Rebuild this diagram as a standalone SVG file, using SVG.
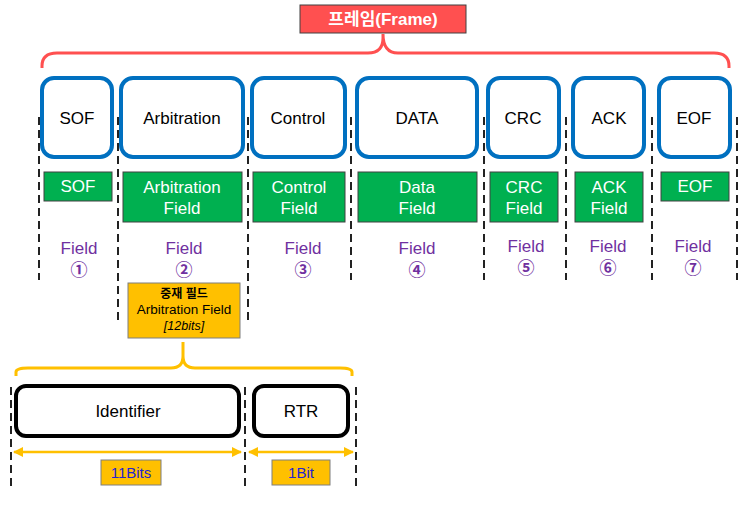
<svg xmlns="http://www.w3.org/2000/svg" width="743" height="505" viewBox="0 0 743 505">
<defs>
<style>
text{font-family:"Liberation Sans","Noto Sans CJK KR",sans-serif;text-anchor:middle}
.blue{fill:#fff;stroke:#0070C0;stroke-width:4}
.green{fill:#00B050;stroke:#404040;stroke-width:1}
.gt{fill:#fff;font-size:17px}
.bt{fill:#000;font-size:17px}
.pt{fill:#7030A0;font-size:17px}
.pc{fill:#7030A0;font-size:17px;font-family:"Noto Sans CJK KR",sans-serif;font-weight:bold}
.dash{stroke:#222;stroke-width:2;stroke-dasharray:8 5;fill:none}
.blk{fill:#fff;stroke:#000;stroke-width:4}
.yl{fill:#FFC000;stroke:#7f7f7f;stroke-width:1}
</style>
<marker id="ah" viewBox="0 0 10 10" refX="9" refY="5" markerWidth="4" markerHeight="4" orient="auto-start-reverse"><path d="M0,0 L10,5 L0,10 z" fill="#FFC000"/></marker>
</defs>
<g id="connectors">
<path d="M42,68 V66 Q42,53 57,53 H368 Q383,53 383,38 V34 Q383,53 398,53 H714 Q729,53 729,66 V68" fill="none" stroke="#FF5050" stroke-width="3"/>
<path d="M16,376 V372 Q16,368 28,368 H171 Q183,368 183,356 V342 M183,356 Q183,368 195,368 H340 Q352,368 352,372 V376" fill="none" stroke="#FFC000" stroke-width="3"/>
<line class="dash" x1="39" y1="117" x2="39" y2="280"/>
<line class="dash" x1="118" y1="117" x2="118" y2="323"/>
<line class="dash" x1="248" y1="117" x2="248" y2="323"/>
<line class="dash" x1="351" y1="117" x2="351" y2="280"/>
<line class="dash" x1="484" y1="117" x2="484" y2="280"/>
<line class="dash" x1="566" y1="117" x2="566" y2="280"/>
<line class="dash" x1="652" y1="117" x2="652" y2="280"/>
<line class="dash" x1="737" y1="117" x2="737" y2="280"/>
<line class="dash" x1="11" y1="387" x2="11" y2="486"/>
<line class="dash" x1="245" y1="387" x2="245" y2="486"/>
<line class="dash" x1="356" y1="387" x2="356" y2="486"/>
<line x1="14" y1="452" x2="241" y2="452" stroke="#FFC000" stroke-width="2.5" marker-start="url(#ah)" marker-end="url(#ah)"/>
<line x1="249" y1="452" x2="353" y2="452" stroke="#FFC000" stroke-width="2.5" marker-start="url(#ah)" marker-end="url(#ah)"/>
</g>
<g id="title">
<rect x="300" y="5" width="166" height="28" fill="#FF5050" stroke="#404040" stroke-width="1"/>
<text x="383" y="25" fill="#fff" font-size="17" font-weight="bold">프레임(Frame)</text>
</g>
<g id="sof">
<rect class="blue" x="42" y="78" width="70" height="79" rx="12"/>
<text class="bt" x="77" y="124">SOF</text>
<rect class="green" x="44" y="172" width="68" height="29"/>
<text class="gt" x="78" y="192">SOF</text>
<text class="pt" x="79" y="254">Field</text>
<text class="pc" x="79" y="276">①</text>
</g>
<g id="arbitration">
<rect class="blue" x="121" y="78" width="122" height="79" rx="12"/>
<text class="bt" x="182" y="124">Arbitration</text>
<rect class="green" x="123" y="172" width="119" height="50"/>
<text class="gt" x="182" y="193">Arbitration</text>
<text class="gt" x="182" y="214">Field</text>
<text class="pt" x="184" y="254">Field</text>
<text class="pc" x="184" y="276">②</text>
</g>
<g id="control">
<rect class="blue" x="252" y="78" width="93" height="79" rx="12"/>
<text class="bt" x="298" y="124">Control</text>
<rect class="green" x="253" y="172" width="92" height="50"/>
<text class="gt" x="299" y="193">Control</text>
<text class="gt" x="299" y="214">Field</text>
<text class="pt" x="303" y="254">Field</text>
<text class="pc" x="303" y="276">③</text>
</g>
<g id="data">
<rect class="blue" x="357" y="78" width="120" height="79" rx="12"/>
<text class="bt" x="417" y="124">DATA</text>
<rect class="green" x="358" y="172" width="119" height="50"/>
<text class="gt" x="417" y="193">Data</text>
<text class="gt" x="417" y="214">Field</text>
<text class="pt" x="417" y="254">Field</text>
<text class="pc" x="417" y="276">④</text>
</g>
<g id="crc">
<rect class="blue" x="488" y="78" width="71" height="79" rx="12"/>
<text class="bt" x="523" y="124">CRC</text>
<rect class="green" x="490" y="172" width="68" height="50"/>
<text class="gt" x="524" y="193">CRC</text>
<text class="gt" x="524" y="214">Field</text>
<text class="pt" x="526" y="252">Field</text>
<text class="pc" x="526" y="274">⑤</text>
</g>
<g id="ack">
<rect class="blue" x="573" y="78" width="71" height="79" rx="12"/>
<text class="bt" x="609" y="124">ACK</text>
<rect class="green" x="575" y="172" width="68" height="50"/>
<text class="gt" x="609" y="193">ACK</text>
<text class="gt" x="609" y="214">Field</text>
<text class="pt" x="608" y="252">Field</text>
<text class="pc" x="608" y="274">⑥</text>
</g>
<g id="eof">
<rect class="blue" x="659" y="78" width="71" height="79" rx="12"/>
<text class="bt" x="694" y="124">EOF</text>
<rect class="green" x="661" y="172" width="68" height="29"/>
<text class="gt" x="695" y="192">EOF</text>
<text class="pt" x="693" y="252">Field</text>
<text class="pc" x="693" y="274">⑦</text>
</g>
<g id="arbitration-detail">
<rect class="yl" x="128" y="283" width="112" height="55"/>
<text x="184" y="298" font-size="12" font-weight="bold" fill="#000">중재 필드</text>
<text x="184" y="314" font-size="13.5" fill="#000">Arbitration Field</text>
<text x="184" y="330" font-size="12.5" font-style="italic" fill="#000">[12bits]</text>
</g>
<g id="identifier">
<rect class="blk" x="16" y="386" width="223" height="50" rx="10"/>
<text class="bt" x="128" y="417">Identifier</text>
</g>
<g id="rtr">
<rect class="blk" x="254" y="386" width="94" height="50" rx="10"/>
<text class="bt" x="301" y="417">RTR</text>
</g>
<g id="bits11">
<rect class="yl" x="101" y="460" width="60" height="25"/>
<text x="131" y="478" font-size="15" fill="#2424D0">11Bits</text>
</g>
<g id="bits1">
<rect class="yl" x="272" y="460" width="58" height="25"/>
<text x="301" y="478" font-size="15" fill="#2424D0">1Bit</text>
</g>
</svg>
